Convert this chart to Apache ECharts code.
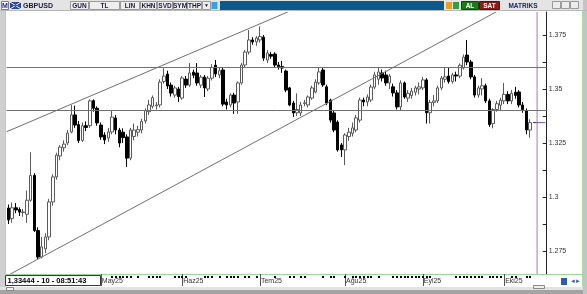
<!DOCTYPE html>
<html><head><meta charset="utf-8">
<script src="https://cdn.jsdelivr.net/npm/echarts@6/dist/echarts.min.js"></script>
<style>html,body{margin:0;padding:0;background:#c8c8c8}#c{width:587px;height:294px}</style>
</head><body><div id="c"></div>
<script>
// ---- data (GBPUSD daily candles, 26 Mar 2025 .. 10 Oct 2025) ----
const opens = [1.2949,1.2900,1.2950,1.2942,1.2928,1.2920,1.2985,1.3100,1.2845,1.2722,1.2760,1.2815,1.2977,1.3093,1.3190,1.3228,1.3250,1.3301,1.3380,1.3335,1.3262,1.3330,1.3330,1.3446,1.3411,1.3333,1.3287,1.3273,1.3301,1.3366,1.3310,1.3300,1.3278,1.3180,1.3280,1.3300,1.3310,1.3352,1.3395,1.3420,1.3422,1.3426,1.3535,1.3569,1.3518,1.3472,1.3500,1.3458,1.3546,1.3518,1.3578,1.3574,1.3518,1.3555,1.3500,1.3550,1.3610,1.3565,1.3588,1.3440,1.3426,1.3472,1.3440,1.3528,1.3611,1.3671,1.3727,1.3718,1.3727,1.3740,1.3634,1.3660,1.3662,1.3611,1.3604,1.3583,1.3505,1.3435,1.3390,1.3389,1.3433,1.3426,1.3458,1.3486,1.3528,1.3588,1.3510,1.3449,1.3389,1.3347,1.3241,1.3218,1.3280,1.3295,1.3310,1.3356,1.3449,1.3440,1.3449,1.3509,1.3545,1.3574,1.3565,1.3528,1.3510,1.3482,1.3417,1.3528,1.3458,1.3470,1.3485,1.3500,1.3505,1.3542,1.3390,1.3438,1.3445,1.3505,1.3545,1.3560,1.3535,1.3565,1.3560,1.3597,1.3657,1.3625,1.3556,1.3472,1.3500,1.3515,1.3445,1.3340,1.3405,1.3425,1.3445,1.3475,1.3445,1.3485,1.3486,1.3426,1.3400,1.3310];
const closes = [1.2894,1.2950,1.2940,1.2930,1.2931,1.2985,1.3100,1.2845,1.2722,1.2769,1.2815,1.2977,1.3093,1.3194,1.3231,1.3245,1.3296,1.3380,1.3333,1.3262,1.3330,1.3322,1.3445,1.3411,1.3343,1.3278,1.3264,1.3301,1.3370,1.3310,1.3250,1.3275,1.3180,1.3310,1.3310,1.3312,1.3350,1.3400,1.3426,1.3460,1.3426,1.3532,1.3560,1.3514,1.3481,1.3505,1.3465,1.3551,1.3518,1.3574,1.3564,1.3528,1.3555,1.3505,1.3550,1.3600,1.3570,1.3585,1.3430,1.3426,1.3472,1.3435,1.3528,1.3611,1.3671,1.3727,1.3718,1.3736,1.3743,1.3643,1.3667,1.3652,1.3611,1.3604,1.3597,1.3495,1.3426,1.3389,1.3405,1.3426,1.3436,1.3463,1.3505,1.3532,1.3579,1.3519,1.3435,1.3356,1.3310,1.3218,1.3218,1.3287,1.3300,1.3320,1.3366,1.3449,1.3440,1.3463,1.3509,1.3565,1.3579,1.3551,1.3528,1.3560,1.3482,1.3417,1.3528,1.3463,1.3480,1.3490,1.3505,1.3510,1.3542,1.3390,1.3438,1.3445,1.3505,1.3550,1.3556,1.3535,1.3565,1.3560,1.3610,1.3648,1.3625,1.3556,1.3472,1.3505,1.3515,1.3445,1.3335,1.3405,1.3432,1.3448,1.3475,1.3445,1.3480,1.3470,1.3426,1.3405,1.3310,1.33444];
const lows = [1.2875,1.2880,1.2925,1.2912,1.2908,1.2880,1.2978,1.2838,1.2712,1.2716,1.2740,1.2800,1.2960,1.3080,1.3170,1.3210,1.3240,1.3295,1.3320,1.3250,1.3255,1.3305,1.3320,1.3395,1.3330,1.3265,1.3245,1.3255,1.3290,1.3290,1.3230,1.3250,1.3139,1.3170,1.3262,1.3280,1.3295,1.3340,1.3380,1.3410,1.3405,1.3415,1.3525,1.3500,1.3465,1.3460,1.3440,1.3450,1.3505,1.3510,1.3550,1.3515,1.3505,1.3463,1.3490,1.3540,1.3555,1.3550,1.3420,1.3405,1.3415,1.3385,1.3385,1.3520,1.3600,1.3660,1.3705,1.3700,1.3715,1.3630,1.3620,1.3640,1.3600,1.3590,1.3575,1.3485,1.3420,1.3370,1.3375,1.3375,1.3420,1.3415,1.3450,1.3480,1.3520,1.3510,1.3425,1.3345,1.3300,1.3210,1.3185,1.3148,1.3260,1.3280,1.3300,1.3345,1.3420,1.3420,1.3440,1.3500,1.3520,1.3535,1.3515,1.3500,1.3465,1.3405,1.3400,1.3455,1.3440,1.3455,1.3470,1.3475,1.3495,1.3340,1.3340,1.3420,1.3435,1.3495,1.3530,1.3525,1.3525,1.3535,1.3550,1.3590,1.3610,1.3545,1.3460,1.3460,1.3470,1.3435,1.3325,1.3318,1.3395,1.3400,1.3430,1.3430,1.3430,1.3455,1.3415,1.3390,1.3290,1.3275];
const highs = [1.2965,1.2975,1.2972,1.2952,1.2945,1.3030,1.3207,1.3110,1.2860,1.2815,1.2832,1.2991,1.3105,1.3205,1.3240,1.3262,1.3310,1.3426,1.3423,1.3352,1.3345,1.3350,1.3452,1.3452,1.3420,1.3345,1.3300,1.3320,1.3403,1.3380,1.3320,1.3318,1.3290,1.3320,1.3340,1.3330,1.3362,1.3410,1.3450,1.3470,1.3440,1.3545,1.3596,1.3585,1.3530,1.3515,1.3510,1.3560,1.3560,1.3620,1.3590,1.3620,1.3565,1.3565,1.3560,1.3615,1.3634,1.3600,1.3600,1.3455,1.3480,1.3482,1.3535,1.3620,1.3680,1.3773,1.3740,1.3745,1.3790,1.3750,1.3680,1.3672,1.3670,1.3625,1.3630,1.3590,1.3510,1.3445,1.3480,1.3440,1.3450,1.3470,1.3515,1.3545,1.3597,1.3600,1.3520,1.3455,1.3400,1.3355,1.3250,1.3295,1.3320,1.3345,1.3380,1.3460,1.3460,1.3475,1.3520,1.3580,1.3597,1.3590,1.3585,1.3570,1.3525,1.3495,1.3540,1.3535,1.3495,1.3505,1.3515,1.3530,1.3555,1.3550,1.3450,1.3472,1.3515,1.3560,1.3600,1.3597,1.3575,1.3580,1.3618,1.3660,1.3727,1.3635,1.3565,1.3515,1.3550,1.3525,1.3455,1.3412,1.3445,1.3460,1.3528,1.3490,1.3495,1.3510,1.3495,1.3440,1.3410,1.3360];

const startDate = '2025-03-26';
const skippedDays = ['2025-04-18'];
const emptySlots = 4;
const monthNames = {5:'May25', 6:'Haz25', 7:'Tem25', 8:'Ağu25', 9:'Eyl25', 10:'Eki25'};
const yLabelValues = [1.275, 1.3, 1.325, 1.35, 1.375];
const yTickValues = [1.275, 1.2875, 1.3, 1.3125, 1.325, 1.3375, 1.35, 1.3625, 1.375];
const levelLines = [1.35958, 1.33875];
const upperTrend = [[-0.5, 1.33019], [75.5, 1.385648]];
const lowerTrend = [[0.55, 1.264352], [131.8, 1.385648]];
const eventDays = [28,29,30,31,32,33,35,38,39,40,41,45,46,47,48,53,54,55,57,59,60,61,62,64,65,67,72,76,77,79,80,85,87,88,91,93,94,95,96,97,98,100,104,105,106,107,108,109,110,111,112,113,114,121,122,123,124,125,126,127,128,130,131,132,133,136,137,140,141];
const lastPrice = 1.33444;
const readout = '1,33444 - 10 - 08:51:43';
const yMin = 1.264352, yMax = 1.385648;

// ---- build categories (trading days) ----
const categories = [];
(function(){
  const d = new Date(startDate + 'T12:00:00Z');
  const need = opens.length + emptySlots;
  while (categories.length < need) {
    const wd = d.getUTCDay();
    const s = d.toISOString().slice(0,10);
    if (wd !== 0 && wd !== 6 && skippedDays.indexOf(s) < 0) categories.push(s);
    d.setUTCDate(d.getUTCDate() + 1);
  }
})();
const monthStart = {};
for (let i = 1; i < opens.length; i++) {
  const m = +categories[i].slice(5,7), pm = +categories[i-1].slice(5,7);
  if (m !== pm && monthNames[m]) monthStart[i] = monthNames[m];
}
const eventSet = new Set(eventDays);
const N = categories.length;
const candles = opens.map((o,i)=>[o, closes[i], lows[i], highs[i]]);
const lastIdx = opens.length - 1;

const FONT = '"Liberation Sans", Arial, sans-serif';
const chart = echarts.init(document.getElementById('c'), null, {renderer:'canvas'});

function txt(x,y,t,opt){ opt=opt||{}; return {type:'text', z:100, silent:true, style:{x:x,y:y,text:t,fill:opt.fill||'#1a1a40',font:(opt.bold===false?'':'bold ')+(opt.size||7)+'px '+FONT,textAlign:opt.align||'left',textVerticalAlign:'middle'}}; }
function rect(x,y,w,h,fill,stroke,z){ return {type:'rect', z:z===undefined?100:z, silent:true, shape:{x:x,y:y,width:w,height:h}, style:{fill:fill,stroke:stroke||null,lineWidth:1}}; }
function line(x1,y1,x2,y2,c,z){ return {type:'line', z:z===undefined?100:z, silent:true, shape:{x1:x1,y1:y1,x2:x2,y2:y2}, style:{stroke:c,lineWidth:1}}; }

const graphic = [
  rect(5,11,578,276,'#ffffff',null,-10),
  line(5.5,11,5.5,287,'#a6dfa6',-5),
  line(582.5,11,582.5,287,'#a6dfa6',-5),
  line(5,274.5,583,274.5,'#9ad89a',-5),
  // bottom chrome
  rect(0,287,587,3,'#e2e2e2',null,90),
  rect(0,290,587,4,'#a4a4a4',null,90),
  rect(6.5,287.5,7,3,'#f0f0f0','#8a8a8a'),
  rect(533.5,285.5,11,3,'#f0f0f0','#8a8a8a'),
  rect(561,278,6,7,'#2a5fb0',null),
  txt(570,281.5,'◄',{size:6,fill:'#2a5fb0',bold:false}),
  txt(575,281.5,'►',{size:6,fill:'#2a5fb0',bold:false}),
  // readout box
  rect(5.5,275.5,95,10,'#ffffff','#3a3a3a'),
  txt(7.5,281,readout,{size:7.5,fill:'#000'}),
  // toolbar
  rect(0,0,587,11,'#e4e4e4',null,90),
  line(0,10.5,587,10.5,'#b8b8b8',95),
  rect(1.5,1.5,7,8,'#ffffff','#7a7a9a'),
  txt(5,6,'M',{size:7,fill:'#1a2a8a',align:'center'}),
  rect(10,2,11,7,'#24418f',null),
  line(10,2,21,9,'#ffffff'), line(10,9,21,2,'#ffffff'),
  line(15.5,2,15.5,9,'#d42020'), line(10,5.5,21,5.5,'#d42020'),
  txt(23,6,'GBPUSD',{size:7}),
];
const btns = [[70,89,'GUN'],[89,120,'TL'],[120,140,'LIN'],[140,157,'KHN'],[157,173,'SVD'],[173,187,'SYM'],[187,202,'THP']];
btns.forEach(b=>{ graphic.push(rect(b[0]+0.5,1.5,b[1]-b[0]-1,8,'#eeeeee','#9a9a9a')); graphic.push(txt((b[0]+b[1])/2,6,b[2],{size:6.5,align:'center'})); });
graphic.push(rect(202.5,1.5,8,8,'#eeeeee','#9a9a9a'), txt(206.5,6,'▼',{size:5,fill:'#1a1a40',align:'center',bold:false}));
graphic.push(rect(211.5,2,6,7,'#3aa0e0',null));
graphic.push(rect(220,1,224,9,'#0c5a8c',null));
graphic.push(rect(446,2,6,7,'#e8a020',null), rect(453,2,6,7,'#30a040',null));
graphic.push(rect(461.5,1.5,17,8,'#1d7a1d','#0e4a0e'), txt(470,6,'AL',{size:6.5,fill:'#ffffff',align:'center'}));
graphic.push(rect(479.5,1.5,20,8,'#8e1b1b','#5a0e0e'), txt(489.5,6,'SAT',{size:6.5,fill:'#ffffff',align:'center'}));
graphic.push(txt(523,6,'MATRIKS',{size:6.5,fill:'#1a2a6a',align:'center'}));
[552,561,570].forEach(x=>graphic.push(rect(x+0.5,1.5,8,7,'#ececec','#9a9a9a')));
graphic.push(rect(583,0,4,294,'#c4c4c4',null,90), rect(0,11,5,276,'#d0d0d0',null,90));

const option = {
  backgroundColor: '#c8c8c8',
  animation: false,
  grid: {left: 6.5, right: 40.3, top: 12, bottom: 20, containLabel: false},
  xAxis: [
    {type:'category', data: categories, boundaryGap: true, gridIndex: 0,
     axisLine: {show: true, onZero: false, lineStyle: {color: '#9ad89a', width: 1}},
     axisTick: {show: true, alignWithLabel: true, length: 12, interval: (i)=>!!monthStart[i], lineStyle: {color: '#555', width: 1}},
     axisLabel: {show: true, interval: (i)=>!!monthStart[i], formatter: (v,i)=>monthStart[i]||'', align: 'left', margin: 4, padding:[0,0,0,1], fontSize: 7, fontFamily: FONT, color: '#333'},
     splitLine: {show: false}},
    {type:'category', data: categories, boundaryGap: true, gridIndex: 0, position: 'bottom', offset: 2,
     axisLine: {show: false, onZero: false},
     axisTick: {show: true, alignWithLabel: true, length: 2, interval: (i)=>eventSet.has(i), lineStyle: {color: '#000', width: 2}},
     axisLabel: {show: false}, splitLine: {show: false}},
    {type:'value', min: -0.5, max: N - 0.5, show: false, gridIndex: 0, axisLine: {onZero: false}}
  ],
  yAxis: [{type:'value', position: 'right', min: yMin, max: yMax, scale: true,
    splitLine: {show: false},
    axisLine: {show: true, onZero: false, lineStyle: {color: '#222', width: 1}},
    axisTick: {show: true, inside: true, length: 4, customValues: yTickValues, lineStyle: {color: '#222'}},
    axisLabel: {show: true, customValues: yLabelValues, formatter: (v)=>String(v), margin: 2, fontSize: 7, fontFamily: FONT, color: '#333'}
  }],
  series: [
    {type:'candlestick', xAxisIndex: 0, yAxisIndex: 0, data: candles, barWidth: 3,
     itemStyle: {color: '#ffffff', color0: '#000000', borderColor: '#5a5a5a', borderColor0: '#000000', borderWidth: 1},
     markLine: {silent: true, symbol: ['none','none'], label: {show: false},
       lineStyle: {color: '#707070', width: 1, type: 'solid'},
       data: levelLines.map(v=>({yAxis: v}))}},
    {type:'line', xAxisIndex: 2, yAxisIndex: 0, data: upperTrend, symbol: 'none', silent: true, lineStyle: {color: '#707070', width: 1}},
    {type:'line', xAxisIndex: 2, yAxisIndex: 0, data: lowerTrend, symbol: 'none', silent: true, lineStyle: {color: '#707070', width: 1}},
    {type:'line', xAxisIndex: 2, yAxisIndex: 0, data: [[lastIdx + 1.9, yMin],[lastIdx + 1.9, yMax]], symbol: 'none', silent: true, lineStyle: {color: '#b66ad2', width: 1}},
    {type:'line', xAxisIndex: 2, yAxisIndex: 0, data: [[lastIdx + 0.8, lastPrice],[lastIdx + 1.8, lastPrice]], symbol: 'none', silent: true, lineStyle: {color: '#303030', width: 1}},
    {type:'line', xAxisIndex: 2, yAxisIndex: 0, data: [[lastIdx + 1.9, lastPrice],[lastIdx + 4.1, lastPrice]], symbol: 'none', silent: true, lineStyle: {color: '#6a5ac8', width: 1}}
  ],
  graphic: graphic
};
chart.setOption(option);
</script></body></html>
